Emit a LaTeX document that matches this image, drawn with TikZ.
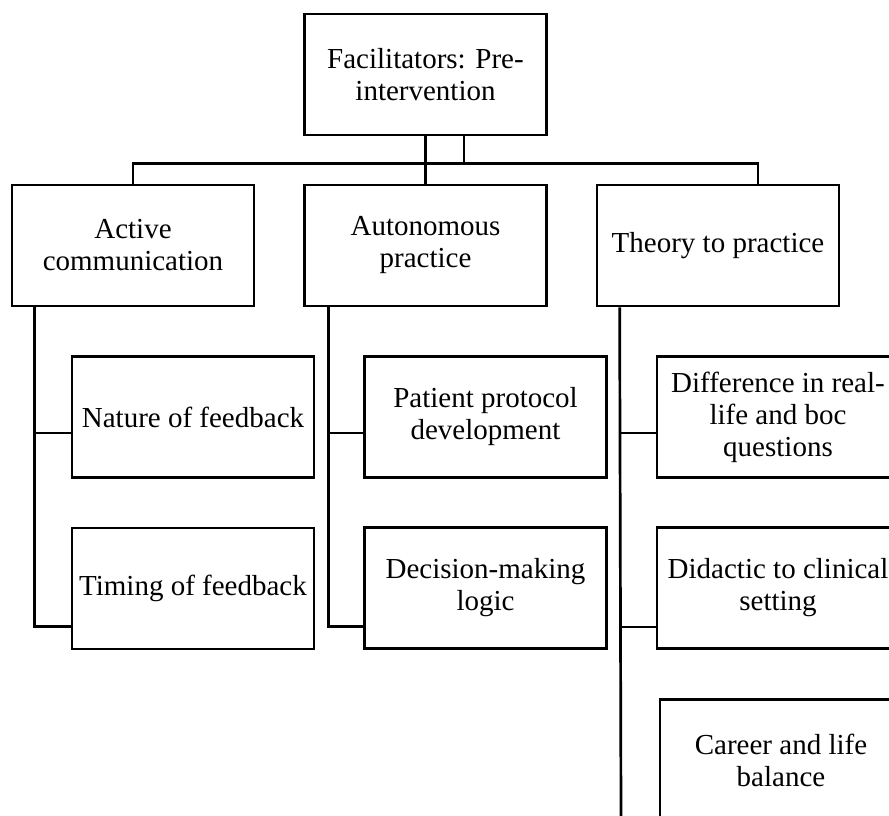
\documentclass[tikz,border=0pt]{standalone}
\usepackage{fontspec}
\setmainfont{Liberation Serif}
\begin{document}
\begin{tikzpicture}[x=1pt,y=-1pt,
  box/.style={draw, line width=2.7pt, minimum width=242pt, minimum height=121pt,
    inner sep=0pt, align=center, font=\fontsize{29}{32}\selectfont},
  link/.style={line width=2.7pt}]
\useasboundingbox (0,0) rectangle (889,816);

% root
\node[box] (top) at (425.5,74.5) {Facilitators: Pre-\\intervention};

% first level
\node[box] (act)  at (133,245.5) {Active\\communication};
\node[box] (auto) at (425.5,245.5) {Autonomous\\practice};
\node[box] (theo) at (718,245.5) {Theory to practice};

% second level
\node[box] (nat) at (193,417)   {Nature of feedback};
\node[box] (tim) at (193,588.5) {Timing of feedback};
\node[box] (pat) at (485.5,417) {Patient protocol\\development};
\node[box] (dec) at (485.5,588) {Decision-making\\logic};
\node[box] (dif) at (778,417)   {Difference in real-\\life and boc\\questions};
\node[box] (did) at (778,588)   {Didactic to clinical\\setting};
\node[box] (car) at (781,760)   {Career and life\\balance};

% bus below the root
\coordinate (bus) at (0,163.3);
\coordinate (tbot) at (621,816);

\draw[link] (top.south) -- (auto.north);
\draw[link] ([xshift=38.5pt]top.south) -- ([xshift=38.5pt]top.south |- bus);
\draw[link] (act.north) -- (act.north |- bus) -| ([xshift=40pt]theo.north);

% branches to the second level
\draw[link] ([xshift=24pt]act.south west) |- ([yshift=-16pt]nat.west);
\draw[link] ([xshift=24pt]act.south west) |- ([yshift=-38pt]tim.west);
\draw[link] ([xshift=25pt]auto.south west) |- ([yshift=-16pt]pat.west);
\draw[link] ([xshift=25pt]auto.south west) |- ([yshift=-38.5pt]dec.west);
\draw[link] ([xshift=24pt]theo.south west) -- (tbot);
\draw[link] ([xshift=24pt]theo.south west |- dif.west) ++(0,16) -- ([yshift=-16pt]dif.west);
\draw[link] ([xshift=24pt]theo.south west |- did.west) ++(0,39) -- ([yshift=-39pt]did.west);
\end{tikzpicture}
\end{document}
